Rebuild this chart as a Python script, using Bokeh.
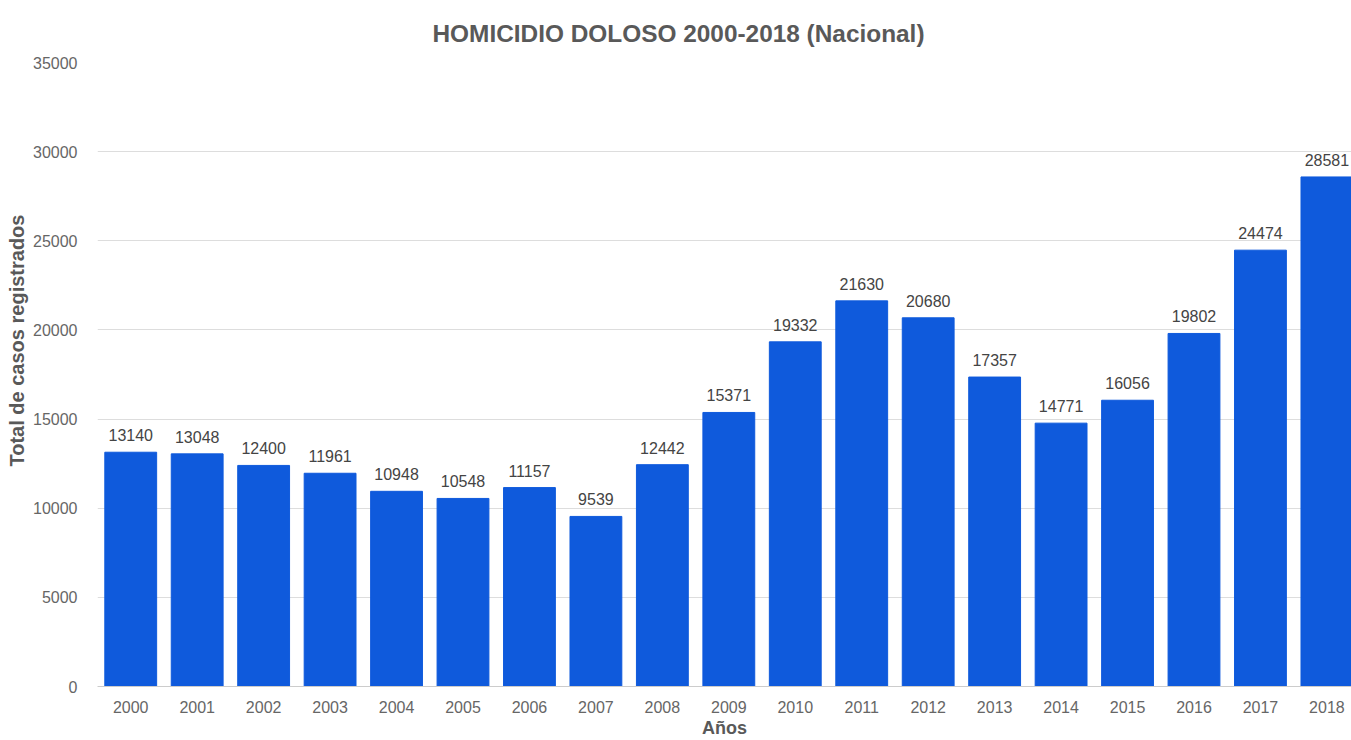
from bokeh.plotting import figure
from bokeh.models import ColumnDataSource, Range1d, FixedTicker, Title
from bokeh.core.properties import value
from bokeh.embed import file_html
from bokeh.resources import INLINE

years = ["2000", "2001", "2002", "2003", "2004", "2005", "2006", "2007", "2008", "2009",
         "2010", "2011", "2012", "2013", "2014", "2015", "2016", "2017", "2018"]
cases = [13140, 13048, 12400, 11961, 10948, 10548, 11157, 9539, 12442, 15371,
         19332, 21630, 20680, 17357, 14771, 16056, 19802, 24474, 28581]
y_ticks = [0, 5000, 10000, 15000, 20000, 25000, 30000, 35000]

idx = list(range(len(years)))
src = ColumnDataSource(dict(x=idx, y=cases, lab=[str(c) for c in cases]))

FONT = "Liberation Sans"

p = figure(width=1351, height=740, output_backend="svg", toolbar_location=None,
           x_range=Range1d(-0.5, 18.37), y_range=Range1d(0, 35000),
           min_border_left=90, min_border_right=0, min_border_top=62, min_border_bottom=0)
p.outline_line_color = None
p.background_fill_color = "white"
p.border_fill_color = "white"

t = Title(text="HOMICIDIO DOLOSO 2000-2018 (Nacional)", align="left", offset=335,
          text_font=FONT, text_font_size="24.4px", text_font_style="bold",
          text_color="#595959", standoff=32)
p.add_layout(t, "above")

ylab = Title(text="Total de casos registrados", align="left", offset=220,
             text_font=FONT, text_font_size="20px", text_font_style="bold",
             text_color="#595959", standoff=6)
p.add_layout(ylab, "left")

p.vbar(x="x", top="y", width=0.78, source=src, color="#0F5ADC")
p.text(x="x", y="y", text="lab", source=src, text_align="center", text_baseline="bottom",
       y_offset=-11, text_font=value(FONT), text_font_size="16px", text_color="#444444")

# axes
p.xaxis.ticker = FixedTicker(ticks=idx)
p.xaxis.major_label_overrides = {i: y for i, y in enumerate(years)}
p.xaxis.axis_line_color = "#cccccc"
p.xaxis.major_tick_line_color = None
p.xaxis.minor_tick_line_color = None
p.xaxis.major_label_text_font = FONT
p.xaxis.major_label_text_font_size = "16px"
p.xaxis.major_label_text_color = "#666666"
p.xaxis.major_label_standoff = 8
p.xaxis.axis_label = "Años"
p.xaxis.axis_label_text_font = FONT
p.xaxis.axis_label_text_font_size = "18px"
p.xaxis.axis_label_text_font_style = "bold"
p.xaxis.axis_label_text_color = "#595959"
p.xaxis.axis_label_standoff = 2

p.yaxis.ticker = FixedTicker(ticks=y_ticks)
p.yaxis.axis_line_color = None
p.yaxis.major_tick_line_color = None
p.yaxis.minor_tick_line_color = None
p.yaxis.major_label_text_font = FONT
p.yaxis.major_label_text_font_size = "16px"
p.yaxis.major_label_text_color = "#666666"
p.yaxis.major_label_standoff = 14

p.xgrid.grid_line_color = None
p.ygrid.grid_line_color = "#dddddd"
p.ygrid.grid_line_width = 1

open("out.html", "w").write(file_html(p, INLINE))
